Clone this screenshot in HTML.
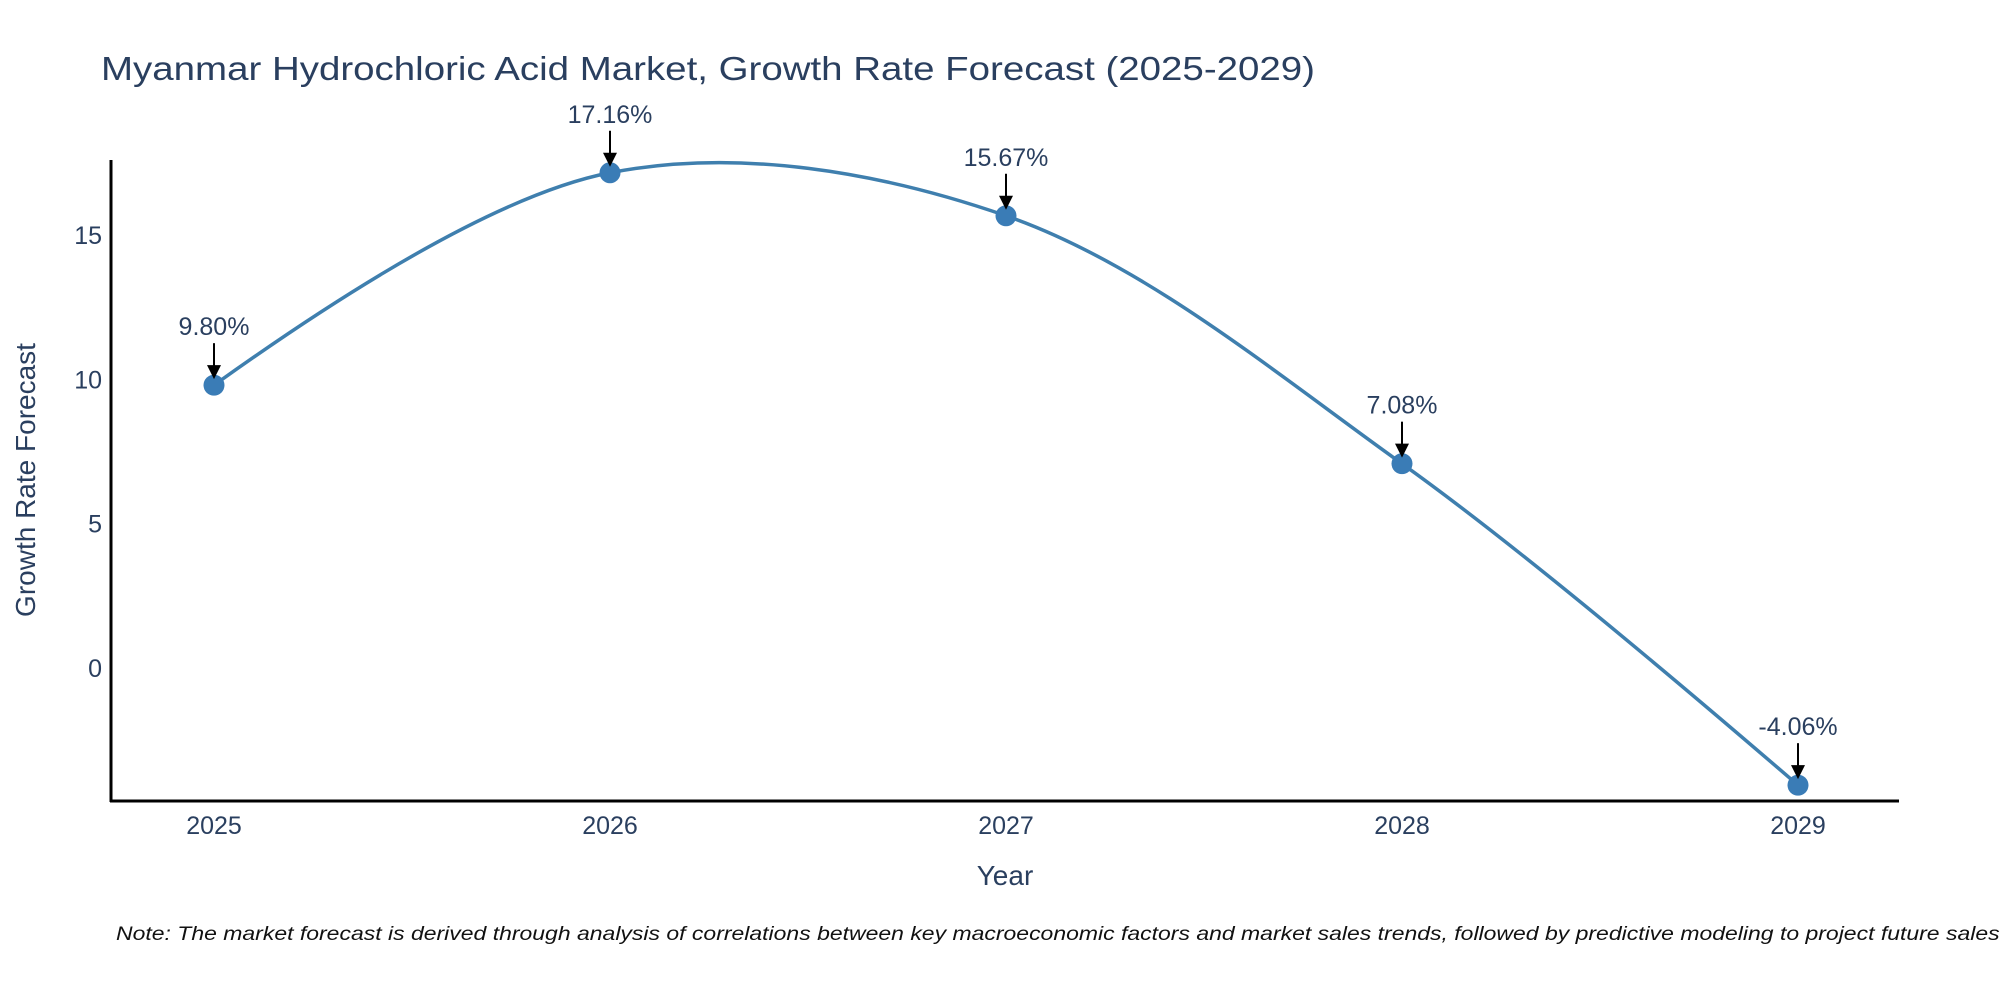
<!DOCTYPE html>
<html><head><meta charset="utf-8"><style>
html,body{margin:0;padding:0;background:#fff;}
svg{display:block;font-family:"Liberation Sans",sans-serif;}
</style></head><body>
<svg id="chart" width="2000" height="1000" viewBox="0 0 2000 1000" xmlns="http://www.w3.org/2000/svg">
<rect width="2000" height="1000" fill="#fff"/>
<text x="101" y="80" font-size="33" fill="#2a3f5f" textLength="1214" lengthAdjust="spacingAndGlyphs">Myanmar Hydrochloric Acid Market, Growth Rate Forecast (2025-2029)</text>
<g id="yticks"></g>
<g id="xticks"></g>
<line x1="111" y1="160" x2="111" y2="802" stroke="#000" stroke-width="3"/>
<line x1="110" y1="801" x2="1899" y2="801" stroke="#000" stroke-width="3"/>
<path id="curve" fill="none" stroke="#3f7fae" stroke-width="3.5"/>
<g id="points"></g>
<g id="annots"></g>
<text transform="translate(35,480) rotate(-90)" text-anchor="middle" font-size="28" fill="#2a3f5f">Growth Rate Forecast</text>
<text x="1005" y="885" text-anchor="middle" font-size="28" fill="#2a3f5f">Year</text>
<text x="116" y="940" font-size="19" font-style="italic" fill="#111" textLength="1890" lengthAdjust="spacingAndGlyphs">Note: The market forecast is derived through analysis of correlations between key macroeconomic factors and market sales trends, followed by predictive modeling to project future sales.</text>
</svg>
<script>
const years = ["2025","2026","2027","2028","2029"];
const growth = [9.80, 17.16, 15.67, 7.08, -4.06];
const growthLabels = ["9.80%","17.16%","15.67%","7.08%","-4.06%"];
const yTickValues = [0, 5, 10, 15];

const NS = "http://www.w3.org/2000/svg";
function xScale(i){ return 214 + i * 396; }
function yScale(v){ return 668 - v * 28.86; }
function mk(tag, attrs, parent){
  const e = document.createElementNS(NS, tag);
  for (const k in attrs) e.setAttribute(k, attrs[k]);
  parent.appendChild(e);
  return e;
}
const yt = document.getElementById('yticks');
yTickValues.forEach(v => {
  const t = mk('text', {x:102, y:yScale(v)+9, 'text-anchor':'end', 'font-size':25, fill:'#2a3f5f'}, yt);
  
  
  t.textContent = v;
});
const xt = document.getElementById('xticks');
years.forEach((y, i) => {
  const t = mk('text', {x:xScale(i), y:834, 'text-anchor':'middle', 'font-size':25, fill:'#2a3f5f'}, xt);
  
  
  t.textContent = y;
});
const pts = growth.map((v, i) => [xScale(i), yScale(v)]);
function makeTangent(p0, p1, p2, s){
  const d1x=p0[0]-p1[0], d1y=p0[1]-p1[1], d2x=p2[0]-p1[0], d2y=p2[1]-p1[1];
  const d1a=Math.pow(d1x*d1x+d1y*d1y,0.25), d2a=Math.pow(d2x*d2x+d2y*d2y,0.25);
  const nx=(d2a*d2a*d1x-d1a*d1a*d2x)*s, ny=(d2a*d2a*d1y-d1a*d1a*d2y)*s;
  const den1=3*d2a*(d1a+d2a), den2=3*d1a*(d1a+d2a);
  return [[p1[0]+nx/den1, p1[1]+ny/den1],[p1[0]-nx/den2, p1[1]-ny/den2]];
}
const tan = [];
for (let i = 1; i < pts.length - 1; i++) tan.push(makeTangent(pts[i-1], pts[i], pts[i+1], 1));
let d = 'M' + pts[0] + 'Q' + tan[0][0] + ' ' + pts[1];
for (let i = 2; i < pts.length - 1; i++) d += 'C' + tan[i-2][1] + ' ' + tan[i-1][0] + ' ' + pts[i];
d += 'Q' + tan[pts.length-3][1] + ' ' + pts[pts.length-1];
document.getElementById('curve').setAttribute('d', d);

const pg = document.getElementById('points');
const ag = document.getElementById('annots');
pts.forEach((p, i) => {
  const c = mk('circle', {cx:p[0], cy:p[1], r:10.5, fill:'#3a7cb6'}, pg);
  
  
  const l = mk('line', {x1:p[0], y1:p[1]-42, x2:p[0], y2:p[1]-18, stroke:'#000', 'stroke-width':2}, ag);
  
  
  const h = mk('polygon', {points:(p[0]-7)+','+(p[1]-20)+' '+(p[0]+7)+','+(p[1]-20)+' '+p[0]+','+(p[1]-6), fill:'#000'}, ag);
  
  
  const t = mk('text', {x:p[0], y:p[1]-50, 'text-anchor':'middle', 'font-size':25, fill:'#2a3f5f'}, ag);
  
  
  t.textContent = growthLabels[i];
});
</script>
</body></html>
